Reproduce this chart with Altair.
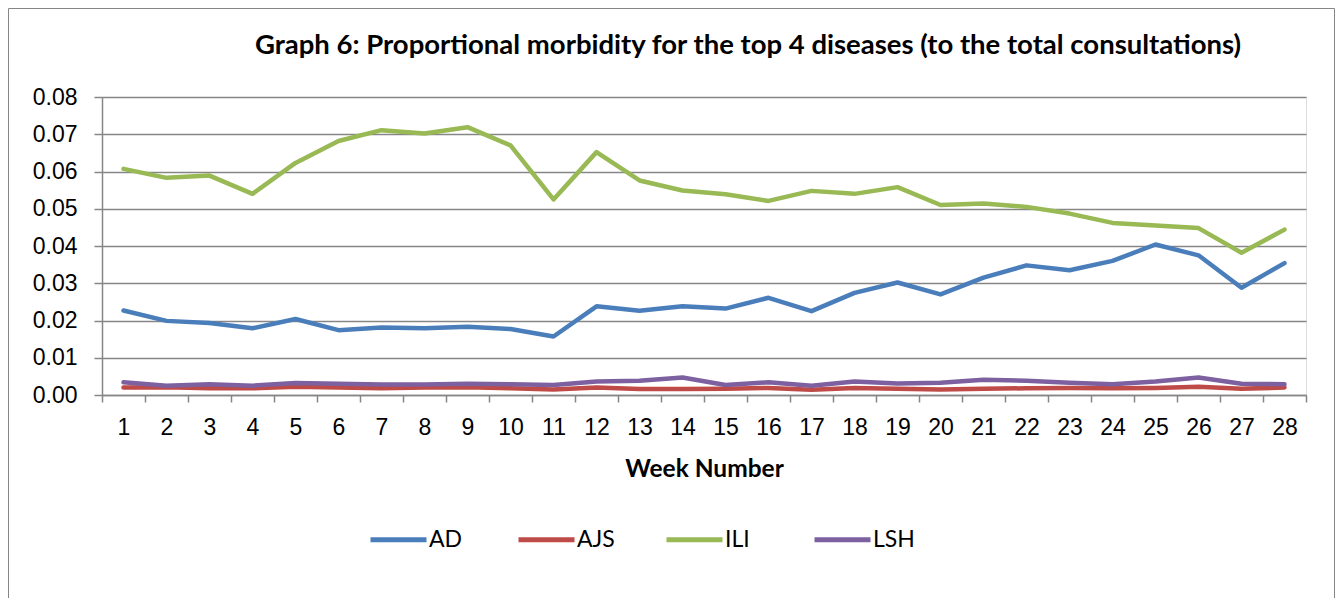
import altair as alt
import pandas as pd

weeks = list(range(1, 29))
series_names = ["AD", "AJS", "ILI", "LSH"]
ad = [0.0227, 0.0199, 0.0193, 0.0179, 0.0204, 0.0174, 0.0181, 0.0179, 0.0183, 0.0177,
      0.0157, 0.0238, 0.0226, 0.0238, 0.0232, 0.0261, 0.0225, 0.0274, 0.0302, 0.0270,
      0.0315, 0.0348, 0.0335, 0.0360, 0.0404, 0.0375, 0.0288, 0.0354]
ajs = [0.0020, 0.0021, 0.0018, 0.0018, 0.0022, 0.0020, 0.0018, 0.0020, 0.0021, 0.0018,
       0.0015, 0.0020, 0.0016, 0.0016, 0.0017, 0.0019, 0.0014, 0.0019, 0.0017, 0.0015,
       0.0017, 0.0018, 0.0019, 0.0018, 0.0019, 0.0022, 0.0017, 0.0020]
ili = [0.0607, 0.0583, 0.0589, 0.0540, 0.0623, 0.0682, 0.0711, 0.0702, 0.0719, 0.0670,
       0.0525, 0.0652, 0.0576, 0.0549, 0.0539, 0.0521, 0.0548, 0.0540, 0.0558, 0.0510,
       0.0514, 0.0505, 0.0487, 0.0462, 0.0455, 0.0448, 0.0382, 0.0444]
lsh = [0.0034, 0.0025, 0.0029, 0.0025, 0.0032, 0.0030, 0.0028, 0.0028, 0.0030, 0.0029,
       0.0027, 0.0036, 0.0038, 0.0047, 0.0027, 0.0034, 0.0025, 0.0036, 0.0031, 0.0033,
       0.0041, 0.0038, 0.0033, 0.0029, 0.0036, 0.0047, 0.0030, 0.0029]
colors = ["#4A7EBB", "#BE4B48", "#98B954", "#7D60A0"]
y_ticks = [0.0, 0.01, 0.02, 0.03, 0.04, 0.05, 0.06, 0.07, 0.08]

rows = []
for name, vals in zip(series_names, [ad, ajs, ili, lsh]):
    for w, v in zip(weeks, vals):
        rows.append({"week": w, "series": name, "value": v})
df = pd.DataFrame(rows)

GRAY = "#868686"
W, H = 1204, 298
PAD = {"left": 94, "top": 89, "right": 29, "bottom": 203}

lines = alt.Chart(df).mark_line(strokeWidth=4.5, strokeCap="round", strokeJoin="round").encode(
    x=alt.X("week:O", bandPosition=0.5,
            scale=alt.Scale(type="band", paddingInner=0, paddingOuter=0),
            axis=alt.Axis(title="Week Number", labelAngle=0, tickBand="extent",
                          labelFont="Liberation Sans", labelFontSize=23, labelColor="black",
                          labelPadding=14, tickSize=7, tickColor=GRAY, tickWidth=1.5,
                          domainColor=GRAY, domainWidth=1.5, grid=False,
                          titleFont="Lato", titleFontSize=24.5, titleFontWeight="bold",
                          titleColor="black", titlePadding=18)),
    y=alt.Y("value:Q", scale=alt.Scale(domain=[0, 0.08], nice=False),
            axis=alt.Axis(title=None, values=y_ticks, format=".2f",
                          labelFont="Liberation Sans", labelFontSize=23, labelColor="black",
                          labelPadding=17, tickSize=8, tickColor=GRAY, tickWidth=1.5,
                          domainColor=GRAY, domainWidth=1.5,
                          grid=True, gridColor=GRAY, gridWidth=1.5)),
    color=alt.Color("series:N", scale=alt.Scale(domain=series_names, range=colors),
                    legend=alt.Legend(title=None, orient="none", direction="horizontal",
                                      legendX=266, legendY=412, symbolType="stroke",
                                      symbolSize=3136, symbolStrokeWidth=5,
                                      labelFont="Lato", labelFontSize=23, labelColor="black",
                                      labelOffset=0, columnPadding=37, gridAlign="all")),
)

border = alt.Chart(pd.DataFrame({"k": [0]})).mark_rect(
    fill=None, stroke=GRAY, strokeWidth=1
).encode(
    x=alt.value(-93.5), x2=alt.value(1232.5),
    y=alt.value(-88.5), y2=alt.value(H + PAD["bottom"] + 6),
)

chart = alt.layer(border, lines).properties(
    width=W, height=H,
    padding=PAD,
    autosize=alt.AutoSizeParams(type="none"),
    title=alt.TitleParams(
        "Graph 6: Proportional morbidity for the top 4 diseases (to the total consultations)",
        font="Lato", fontSize=27.5, fontWeight="bold", color="black",
        anchor="middle", baseline="alphabetic", offset=0, dx=44, dy=73),
).configure_view(stroke=None).configure(background="white")

chart.save("out.html", embed_options={"renderer": "svg", "actions": False})
